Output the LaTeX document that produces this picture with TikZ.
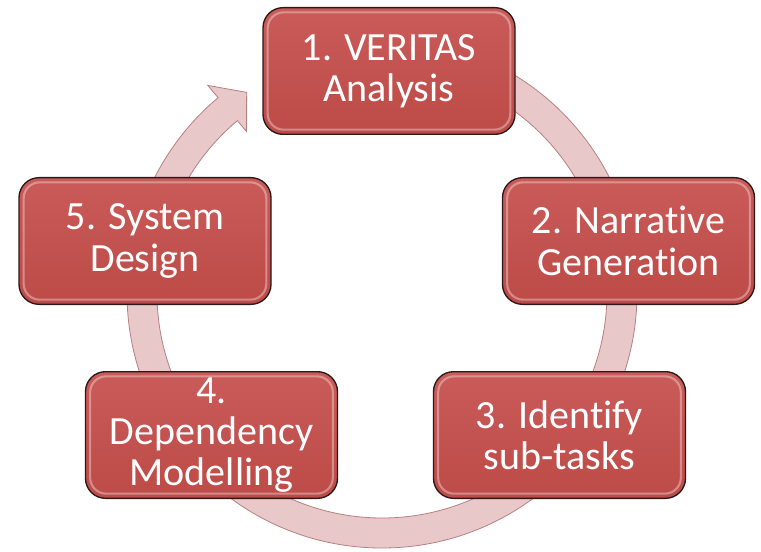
\documentclass[tikz,border=0pt]{standalone}
\usepackage{fontspec}
\setmainfont{Carlito}[Ligatures=NoCommon]
\usetikzlibrary{positioning,calc}
\definecolor{BoxC}{HTML}{BD4B48}
\definecolor{BoxTopC}{HTML}{C95B58}
\definecolor{BoxEdgeC}{HTML}{2B1818}
\definecolor{RingC}{HTML}{E8C8C8}
\definecolor{RingEdgeC}{HTML}{B98080}

\tikzset{
  stagebox/.style={draw=BoxEdgeC,line width=1pt,rounded corners=15pt,
    top color=BoxTopC,bottom color=BoxC,
    minimum width=189pt,minimum height=95pt,align=center,
    text=white,font=\fontsize{30}{31}\selectfont,
    path picture={\draw[white,opacity=.35,line width=1.6pt,rounded corners=12pt]
      ([shift={(3.5pt,3.5pt)}]path picture bounding box.south west) rectangle
      ([shift={(-3.5pt,-3.5pt)}]path picture bounding box.north east);}}
}

\begin{document}
\begin{tikzpicture}[x=0.75pt,y=0.75pt]
\useasboundingbox (0,0) rectangle (761,551);

% ---------- cycle arrow behind the stages ----------
\coordinate (hub) at (382,258);
\filldraw[fill=RingC,draw=RingEdgeC,line width=.6pt]
  ($(hub)+(90:255)$) arc[start angle=90,end angle=-230,radius=255]
  -- ($(hub)+(-230:271)$) -- ($(hub)+(-236:242)$) -- ($(hub)+(-230:211)$)
  -- ($(hub)+(-230:225)$) arc[start angle=-230,end angle=90,radius=225]
  -- cycle;

% ---------- stages ----------
\node[stagebox] (veritas)   at (389,480)   {1. VERITAS\\Analysis};
\node[stagebox] (narrative) at (628.5,310) {2. Narrative\\Generation};
\node[stagebox] (subtasks)  at (559.5,116) {3. Identify\\sub-tasks};
\node[stagebox] (depend)    at (211.5,116) {4.\\Dependency\\Modelling};
\node[stagebox] (sysdesign) at (145,310)   {5. System\\Design};
\end{tikzpicture}
\end{document}
